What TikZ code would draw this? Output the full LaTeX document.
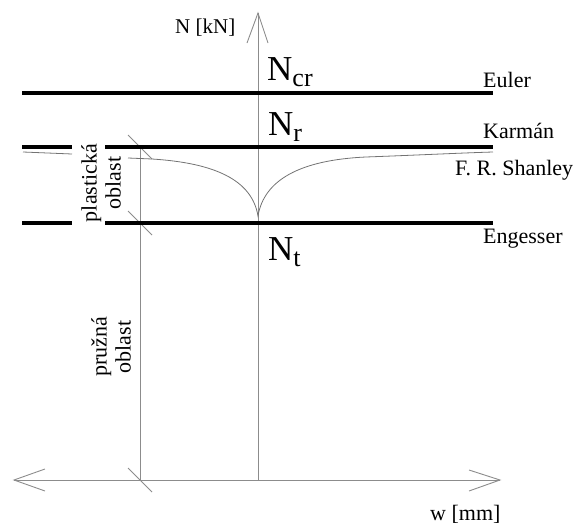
\documentclass[tikz,border=0pt]{standalone}
\usepackage{fontspec}
\setmainfont{Liberation Serif}
\begin{document}
\begin{tikzpicture}[x=1pt,y=-1pt,
  axis/.style={draw=black!45,line width=0.9pt},
  limit/.style={draw=black,line width=3.2pt},
  curve/.style={draw=black!55,line width=0.8pt},
  lbl/.style={inner sep=0pt,font=\fontsize{22}{25}\selectfont},
  bigN/.style={inner sep=0pt,anchor=base west,font=\fontsize{35}{35}\selectfont},
  region/.style={inner sep=0pt,rotate=90,align=center,font=\fontsize{22}{24}\selectfont}]
\useasboundingbox (0,0) rectangle (576,525);

% axes
\coordinate (ntop) at (258,13);
\coordinate (nbot) at (258,480);
\coordinate (wleft) at (14,480);
\coordinate (wright) at (500,480);
\draw[axis] (nbot) -- (ntop);
\draw[axis] (247,43) -- (ntop) -- (268,43);
\draw[axis] (wleft) -- (wright);
\draw[axis] (45,469) -- (wleft) -- (45,491);
\draw[axis] (469,470) -- (wright) -- (469,491);

% auxiliary vertical with ticks
\coordinate (aK) at (140,147);
\coordinate (aE) at (140,223);
\coordinate (aB) at (140,480);
\draw[axis] (aK) -- (aB);
\foreach \p in {aK,aE,aB}
  \draw[axis] ([shift={(-12,-12)}]\p) -- ([shift={(12,12)}]\p);

% critical force levels
\draw[limit] (22,93) -- (493,93);
\draw[limit] (22,147) -- (72,147) (105,147) -- (493,147);
\draw[limit] (22,223) -- (72,223) (105,223) -- (493,223);

% Shanley curve
\draw[curve] (23,152) -- (72,154);
\draw[curve] (128,158) -- (152,159)
  .. controls (215,163) and (252,180) .. (258,216)
  .. controls (264,180) and (300,160) .. (366,157)
  .. controls (420,155) and (460,153) .. (493,152);

% labels
\node[inner sep=0pt,anchor=base west,font=\fontsize{21}{21}\selectfont] (nlab) at (175,33) {N [kN]};
\node[lbl,anchor=base west] (wlab) at (430,520) {w [mm]};
\node[lbl,anchor=base west] (euler) at (483,87) {Euler};
\node[lbl,anchor=base west] (karman) at (483,138) {Karmán};
\node[lbl,anchor=base west] (shanley) at (455,175) {F. R. Shanley};
\node[lbl,anchor=base west] (engesser) at (483,243) {Engesser};

\node[bigN] (ncr) at (267,80) {N\raisebox{-6pt}{\fontsize{26}{26}\selectfont cr}};
\node[bigN] (nr) at (268,135) {N\raisebox{-6pt}{\fontsize{26}{26}\selectfont r}};
\node[bigN] (nt) at (268,260) {N\raisebox{-6pt}{\fontsize{26}{26}\selectfont t}};

\node[region] (plast) at (101,183) {plastická\\oblast};
\node[region] (pruz) at (111,347) {pružná\\oblast};
\end{tikzpicture}
\end{document}
